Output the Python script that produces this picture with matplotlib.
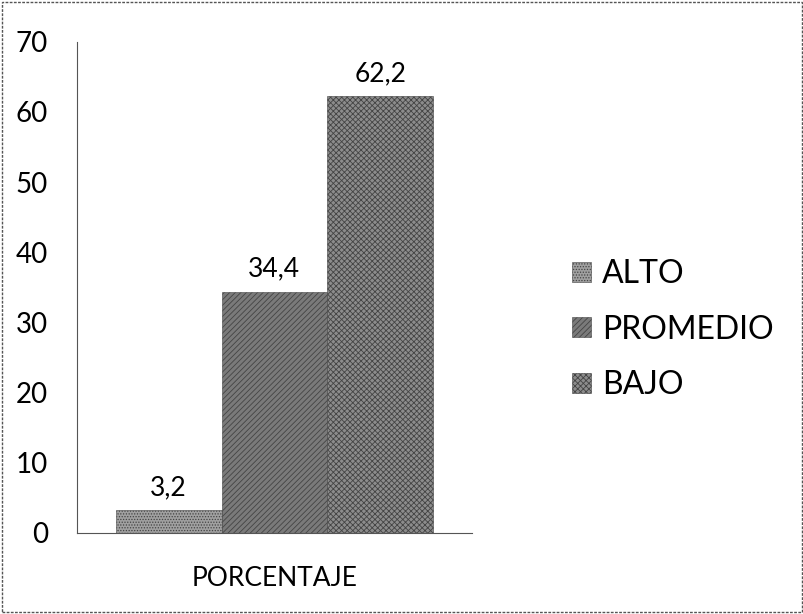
import matplotlib.pyplot as plt
from matplotlib.patches import Rectangle

categoria = ['PORCENTAJE']
series = ['ALTO', 'PROMEDIO', 'BAJO']
valores = [3.2, 34.4, 62.2]
etiquetas = ['3,2', '34,4', '62,2']
colores = ['#a0a0a0', '#7a7a7a', '#8c8c8c']
tramas = ['......', '//////', 'xxxxxx']

plt.rcParams['font.family'] = ['Lato', 'DejaVu Sans']
plt.rcParams['hatch.color'] = '#3a3a3a'
plt.rcParams['hatch.linewidth'] = 0.6

fig = plt.figure(figsize=(8.04, 6.14), dpi=100)
ax = fig.add_axes([0.0958, 0.132, 0.491, 0.80])

ancho = 0.268
desp = [-ancho, 0, ancho]
for i in range(len(series)):
    ax.bar(0 + desp[i], valores[i], ancho, color=colores[i], hatch=tramas[i],
           edgecolor='#444444', linewidth=0.4, label=series[i])
    ax.text(0 + desp[i], valores[i] + 1.5, etiquetas[i], ha='center', va='bottom', fontsize=19)

ax.set_xlim(-0.5, 0.5)
ax.set_ylim(0, 70)
ax.set_yticks(range(0, 71, 10))
ax.set_xticks([0])
ax.set_xticklabels(categoria, fontsize=19)
ax.tick_params(axis='y', length=0, labelsize=20, pad=21)
ax.tick_params(axis='x', length=0, pad=24)
for s in ['top', 'right']:
    ax.spines[s].set_visible(False)
ax.spines['left'].set_color('#555555')
ax.spines['left'].set_linestyle((0, (2, 1)))
ax.spines['bottom'].set_color('#555555')
ax.spines['bottom'].set_linestyle((0, (2, 1)))

ax.legend(loc='center left', bbox_to_anchor=(1.18, 0.414), frameon=False, fontsize=23,
          handlelength=0.6, handleheight=0.6, handletextpad=0.35, labelspacing=0.8)

fig.patches.append(Rectangle((0.003, 0.003), 0.994, 0.994, transform=fig.transFigure,
                             fill=False, edgecolor='#555555', linestyle=(0, (2, 1)), linewidth=1))

fig.savefig('out.png', dpi=100)
